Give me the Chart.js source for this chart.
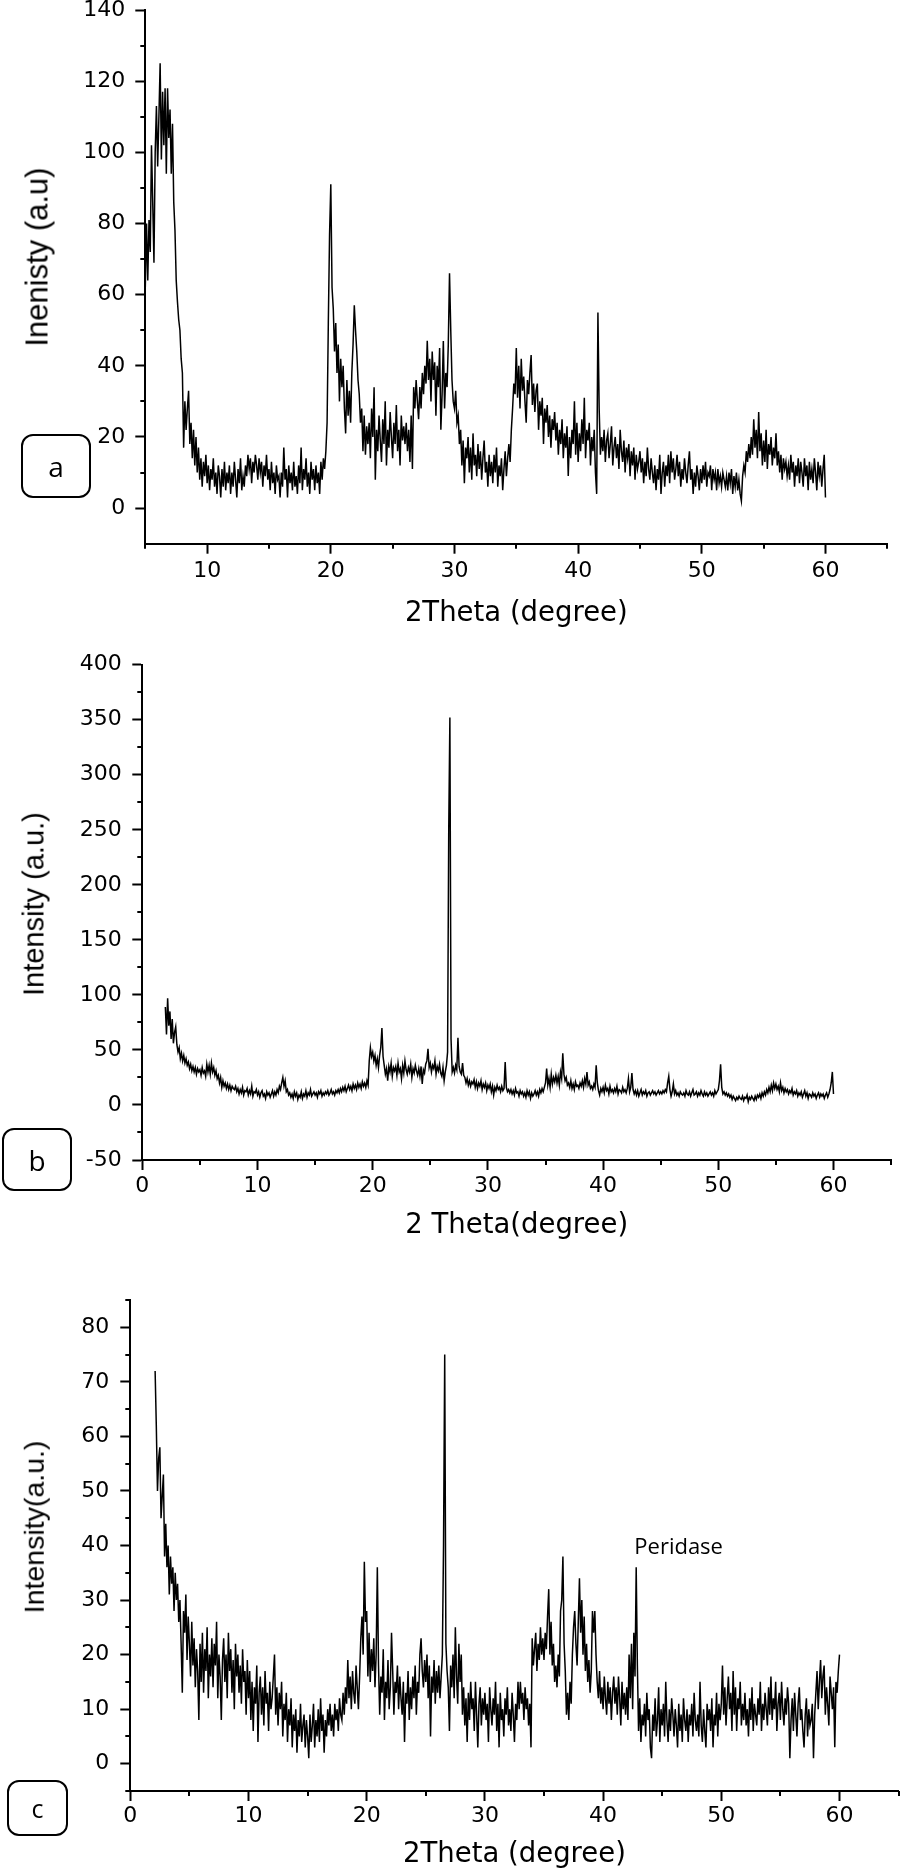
<!DOCTYPE html>
<html><head><meta charset="utf-8">
<script src="https://cdn.jsdelivr.net/npm/chart.js@4.4.1/dist/chart.umd.min.js"></script>
<style>
html,body{margin:0;padding:0;background:#fff;width:900px;height:1869px;overflow:hidden;position:relative;}
canvas{position:absolute;left:0;}
.ytitle{position:absolute;transform:translate(-50%,-50%) rotate(-90deg);white-space:nowrap;color:#000;font-family:"Liberation Sans",Arial,sans-serif;line-height:1;}
.tag{position:absolute;box-sizing:border-box;border:2px solid #000;border-radius:12px;display:flex;align-items:center;justify-content:center;font-family:"Open Sans",sans-serif;color:#000;line-height:1;}
</style></head>
<body>
<canvas id="chartA" width="900" height="640" style="top:0px;width:900px;height:640px"></canvas>
<canvas id="chartB" width="900" height="610" style="top:640px;width:900px;height:610px"></canvas>
<canvas id="chartC" width="900" height="612" style="top:1260px;width:900px;height:612px"></canvas>
<div class="ytitle" style="left:37px;top:257px;font-size:31px">Inenisty (a.u)</div>
<div class="ytitle" style="left:34px;top:904px;font-size:29px">Intensity (a.u.)</div>
<div class="ytitle" style="left:34px;top:1527px;font-size:28.5px">Intensity(a.u.)</div>
<div class="tag" style="left:21px;top:434px;width:70px;height:64px;font-size:28px">a</div>
<div class="tag" style="left:2px;top:1128px;width:70px;height:63px;font-size:28px">b</div>
<div class="tag" style="left:7px;top:1780px;width:61px;height:56px;font-size:25px">c</div>
<script>
// ---------- data (2θ grid: start + i*step) ----------
const thetaStep = 0.1;
const thetaStartA = 5.0;
const intensityA = [
62,80,64,81,72,102,86,69,100,113,
96,110,125,98,117,102,118,94,118,104,
112,94,108,86,78,64,58,53,50,42,
38,17,30,22,28,33,18,24,14,22,
12,20,10,17,8,14,6,13,9,15,
7,12,5,11,8,14,6,10,4,12,
9,3,11,6,13,5,10,7,12,4,
10,6,13,8,3,11,7,14,5,9,
6,12,9,15,11,14,7,13,10,15,
12,8,14,10,13,6,12,9,15,8,
11,5,13,7,10,4,12,8,9,3,
10,6,17,8,11,3,12,7,10,5,
13,6,9,4,12,7,17,5,11,8,
14,6,10,4,13,8,11,5,12,7,
10,4,13,8,14,11,16,24,52,77,
91,62,56,44,52,38,46,30,42,34,
40,28,21,36,26,33,24,38,46,57,
50,44,36,32,24,28,16,26,15,23,
18,24,14,28,20,34,8,22,16,26,
19,13,25,18,30,12,22,17,27,20,
14,24,18,29,16,22,12,26,19,23,
18,24,16,22,13,26,11,34,28,36,
30,25,34,28,38,32,40,35,47,36,
42,30,44,36,41,26,40,34,45,22,
32,47,28,38,34,46,66,50,36,30,
28,33,24,26,18,22,12,19,7,17,
14,20,10,17,8,21,12,15,9,18,
11,16,8,14,19,10,13,6,15,9,
13,7,15,10,17,6,12,9,14,5,
11,16,9,14,18,13,22,28,35,32,
45,31,40,28,42,33,37,30,24,36,
32,38,43,29,35,27,33,35,22,30,
26,31,18,28,24,29,20,26,17,25,
22,27,19,24,15,22,18,25,14,21,
17,23,9,20,14,22,18,30,15,24,
13,21,16,25,18,31,14,22,19,24,
12,20,16,22,10,4,55,28,15,20,
16,22,13,19,21,14,18,23,12,17,
20,14,18,11,22,16,13,19,10,17,
14,18,9,16,12,17,8,15,11,13,
16,10,14,7,13,9,17,11,8,14,
10,7,12,5,11,8,15,4,10,13,
6,12,9,15,7,16,10,14,8,11,
15,9,13,6,11,8,14,10,7,12,
16,8,11,4,10,6,12,9,5,11,
7,12,8,13,6,10,9,12,5,11,
8,10,5,11,7,9,6,10,8,6,
9,5,10,7,11,4,9,6,10,5,
8,4,2,9,12,10,16,13,18,14,
20,15,25,17,22,14,27,16,21,12,
19,13,22,11,18,15,20,12,17,14,
21,12,16,10,15,8,14,11,13,9,
12,8,15,10,13,6,12,9,14,7,
13,10,6,14,9,12,5,13,8,11,
7,14,10,5,13,9,12,6,11,15,
3];

const thetaStartB = 2.0;
const intensityB = [
89,64,97,72,85,60,78,56,66,71,
55,48,52,42,47,40,45,38,42,36,
39,33,37,31,35,30,34,28,33,30,
32,27,34,29,31,26,37,30,36,28,
38,30,34,27,31,24,27,20,25,16,
22,17,20,15,19,14,18,13,17,15,
14,17,12,15,10,14,11,16,9,13,
12,15,9,13,10,17,8,12,11,14,
9,12,7,11,13,8,10,6,12,9,
11,7,10,13,8,12,9,14,11,17,
14,20,25,17,22,12,14,9,11,7,
10,6,12,8,11,5,9,7,12,6,
10,8,13,7,11,9,14,8,10,12,
9,11,7,12,10,13,8,11,9,12,
10,13,9,11,14,10,12,9,13,11,
14,11,15,12,16,13,17,12,15,18,
14,17,13,19,15,18,14,20,16,19,
15,21,17,20,16,22,18,40,52,44,
48,40,45,36,42,34,45,52,70,44,
36,28,33,22,35,30,38,26,34,31,
35,27,38,30,33,24,36,29,40,32,
28,34,30,37,25,33,29,36,31,27,
33,26,35,19,32,29,37,40,51,34,
38,30,36,33,40,28,35,31,37,29,
26,34,22,30,36,48,250,352,60,30,
34,29,36,32,61,35,30,28,38,27,
25,20,24,18,22,17,21,19,23,16,
21,15,20,17,22,14,19,16,20,13,
18,15,19,12,17,9,16,13,18,14,
16,12,17,13,15,39,16,12,14,11,
14,10,13,9,15,11,12,8,13,10,
12,8,11,7,13,9,12,6,11,8,
10,13,9,12,8,14,11,15,12,16,
20,33,18,24,16,28,19,25,21,27,
20,26,18,30,24,47,28,22,25,18,
20,16,22,15,19,14,21,17,18,15,
20,17,22,16,24,19,30,18,21,15,
17,14,19,16,36,20,13,9,15,12,
16,11,18,13,15,10,17,12,14,11,
15,12,17,10,14,13,11,16,12,14,
11,15,24,12,16,29,14,10,13,9,
13,8,11,14,9,12,10,13,8,11,
12,9,11,13,10,12,9,11,13,10,
12,10,13,11,14,12,20,26,14,8,
12,19,10,13,9,11,8,12,10,9,
11,8,13,10,9,12,8,11,14,9,
10,12,8,11,9,13,10,8,12,9,
11,8,10,12,9,11,8,13,10,12,
14,22,37,16,10,12,9,11,8,10,
7,9,5,8,6,4,7,5,8,6,
5,8,4,7,6,9,3,7,5,8,
6,4,8,5,9,7,10,6,11,8,
12,9,14,11,16,12,18,13,20,15,
19,14,17,12,20,13,16,11,15,12,
14,10,13,11,15,9,12,10,13,8,
11,9,12,7,10,13,8,11,6,10,
9,7,11,8,10,6,9,11,7,10,
8,10,6,9,11,7,10,14,20,30,
10];

const thetaStartC = 2.1;
const intensityC = [
72,62,50,56,58,45,49,53,38,
44,36,40,31,38,33,36,28,35,30,
33,26,30,22,13,28,24,31,19,27,
22,16,26,18,23,14,21,17,8,22,
15,24,13,21,17,25,12,20,16,23,
14,22,18,26,12,20,16,8,19,23,
15,20,12,24,17,21,13,19,10,22,
16,20,13,18,11,21,15,17,9,19,
12,17,8,15,6,14,11,18,4,13,
16,9,14,7,17,11,13,6,15,10,
12,16,20,9,14,7,13,10,15,5,
11,8,13,4,10,7,12,3,9,6,
10,2,8,5,11,4,7,9,3,8,
5,1,9,4,7,11,3,8,5,10,
4,12,6,9,2,8,5,10,7,11,
6,9,5,11,8,10,6,12,9,8,
13,9,14,11,19,12,16,10,17,13,
11,18,14,10,16,23,27,20,37,26,
28,16,24,15,21,17,23,14,20,36,
18,9,16,13,21,8,15,12,19,10,
14,24,17,9,15,13,18,10,16,12,
9,15,4,13,11,17,8,14,10,16,
12,18,9,15,13,20,23,17,14,19,
15,20,12,18,5,16,13,19,11,17,
13,18,12,16,20,40,75,22,17,14,
6,18,14,20,12,25,16,11,22,15,
20,9,14,7,12,4,13,8,15,10,
12,6,15,9,3,11,14,7,12,9,
13,8,11,4,14,10,7,12,9,15,
6,11,3,13,8,10,5,12,9,14,
7,10,6,13,9,4,11,8,15,10,
15,11,13,8,14,10,12,7,11,3,
23,18,21,24,17,22,19,25,20,23,
19,24,21,27,32,20,26,18,22,15,
18,14,20,16,28,30,38,22,17,9,
13,8,15,11,20,25,28,22,18,26,
34,24,30,20,27,17,22,15,19,13,
17,28,24,28,20,15,12,17,11,14,
10,16,12,9,15,11,14,8,13,16,
11,14,9,16,12,7,15,10,13,9,
14,8,20,12,22,10,24,16,36,18,
6,12,4,9,7,11,5,13,8,10,
3,1,9,6,12,5,8,14,4,10,
7,11,5,15,8,4,10,6,12,9,
5,10,7,3,11,6,9,4,12,8,
6,10,4,9,7,11,5,13,8,6,
9,5,15,7,4,10,6,3,11,8,
10,6,12,3,9,7,13,5,11,8,
11,18,9,14,7,12,16,10,13,6,
17,9,14,6,12,10,15,7,11,8,
13,7,10,5,12,8,14,6,11,9,
7,12,9,15,6,11,8,13,10,7,
14,9,16,8,12,10,15,6,11,13,
8,15,10,7,12,9,14,11,1,8,
12,6,13,9,5,11,14,8,10,6,
3,9,12,5,10,7,8,11,1,9,
13,17,10,15,19,12,16,18,9,14,
11,7,16,13,10,14,3,15,13,17,
20];

// ---------- ticks ----------
const xTicksA = [10,20,30,40,50,60];
const xMinorA = [5,15,25,35,45,55,65];
const yTicksA = [0,20,40,60,80,100,120,140];
const yMinorA = [10,30,50,70,90,110,130];

const xTicksBC = [0,10,20,30,40,50,60];
const xMinorBC = [5,15,25,35,45,55,65];
const yTicksB = [-50,0,50,100,150,200,250,300,350,400];
const yMinorB = [-25,25,75,125,175,225,275,325,375];
const yTicksC = [0,10,20,30,40,50,60,70,80];
const yMinorC = [-5,5,15,25,35,45,55,65,75,85];

const annotC = {text:'Peridase', theta:42.64, value:39.5};

// ---------- plugins ----------
const minorTickPlugin = {
  id:'minorTicks',
  afterDraw(chart, args, opts){
    const {ctx} = chart; const x = chart.scales.x, y = chart.scales.y;
    ctx.save(); ctx.strokeStyle='#000'; ctx.lineWidth=2; ctx.beginPath();
    (opts.x||[]).forEach(v=>{const p=Math.round(x.getPixelForValue(v)); ctx.moveTo(p,x.top); ctx.lineTo(p,x.top+5);});
    (opts.y||[]).forEach(v=>{const p=Math.round(y.getPixelForValue(v)); ctx.moveTo(y.right,p); ctx.lineTo(y.right-5,p);});
    ctx.stroke(); ctx.restore();
  }
};
const annotPlugin = {
  id:'annot',
  afterDatasetsDraw(chart, args, opts){
    if(!opts || !opts.text) return;
    const {ctx} = chart;
    ctx.save(); ctx.fillStyle='#000'; ctx.font='22px "Open Sans", sans-serif';
    ctx.textAlign='left'; ctx.textBaseline='middle';
    ctx.fillText(opts.text, chart.scales.x.getPixelForValue(opts.theta), chart.scales.y.getPixelForValue(opts.value));
    ctx.restore();
  }
};

const FAM = '"DejaVu Sans", Verdana, sans-serif';

function buildChart(id, o){
  const pts = o.values.map((v,i)=>({x: Math.round((o.start + i*thetaStep)*100)/100, y: v}));
  const zeroPad = s => { s.paddingLeft=0; s.paddingRight=0; s.paddingTop=0; s.paddingBottom=0; };
  return new Chart(document.getElementById(id), {
    type:'line',
    data:{datasets:[{data:pts, borderColor:'#000', borderWidth:1.5, pointRadius:0, tension:0, fill:false}]},
    options:{
      responsive:false, animation:false, devicePixelRatio:1,
      layout:{padding:{top:o.padTop, right:o.padRight, bottom:0, left:0}},
      plugins:{legend:{display:false}, tooltip:{enabled:false},
        minorTicks:{x:o.xMinor, y:o.yMinor}, annot:o.annot||{}},
      scales:{
        x:{type:'linear', min:o.xMin, max:o.xMax,
          afterBuildTicks: s=>{ s.ticks = o.xTicks.map(v=>({value:v})); },
          afterFit: s=>{ s.height = o.xHeight; zeroPad(s); },
          grid:{display:true, drawOnChartArea:false, drawTicks:true, tickLength:10, tickWidth:2, tickColor:'#000'},
          border:{display:true, color:'#000', width:2},
          ticks:{color:'#000', font:{family:FAM, size:22}, padding:o.xTickPad, maxRotation:0, autoSkip:false},
          title:{display:true, text:o.xTitle, color:'#000', font:{family:FAM, size:27.5}, padding:{top:0, bottom:o.xTitlePad}}
        },
        y:{type:'linear', min:o.yMin, max:o.yMax,
          afterBuildTicks: s=>{ s.ticks = o.yTicks.map(v=>({value:v})); },
          afterFit: s=>{ s.width = o.yWidth; zeroPad(s); },
          grid:{display:true, drawOnChartArea:false, drawTicks:true, tickLength:10, tickWidth:2, tickColor:'#000'},
          border:{display:true, color:'#000', width:2},
          ticks:{color:'#000', font:{family:FAM, size:22}, padding:o.yTickPad, autoSkip:false}
        }
      }
    },
    plugins:[minorTickPlugin, annotPlugin]
  });
}

buildChart('chartA', {values:intensityA, start:thetaStartA, xMin:5, xMax:65, yMin:-10, yMax:140,
  xTicks:xTicksA, xMinor:xMinorA, yTicks:yTicksA, yMinor:yMinorA,
  padTop:10, padRight:12.7, xHeight:96.3, yWidth:145.3, xTickPad:4.8, yTickPad:10, xTitlePad:9.7,
  xTitle:'2Theta (degree)'});
buildChart('chartB', {values:intensityB, start:thetaStartB, xMin:0, xMax:65, yMin:-50, yMax:400,
  xTicks:xTicksBC, xMinor:xMinorBC, yTicks:yTicksB, yMinor:yMinorB,
  padTop:24.7, padRight:8.9, xHeight:90, yWidth:142.3, xTickPad:3.5, yTickPad:10.5, xTitlePad:8,
  xTitle:'2 Theta(degree)'});
buildChart('chartC', {values:intensityC, start:thetaStartC, xMin:0, xMax:65, yMin:-5, yMax:85,
  xTicks:xTicksBC, xMinor:xMinorBC, yTicks:yTicksC, yMinor:yMinorC,
  padTop:40, padRight:1.4, xHeight:81, yWidth:130.3, xTickPad:2.5, yTickPad:11, xTitlePad:1,
  xTitle:'2Theta (degree)', annot:annotC});
</script>
</body></html>
